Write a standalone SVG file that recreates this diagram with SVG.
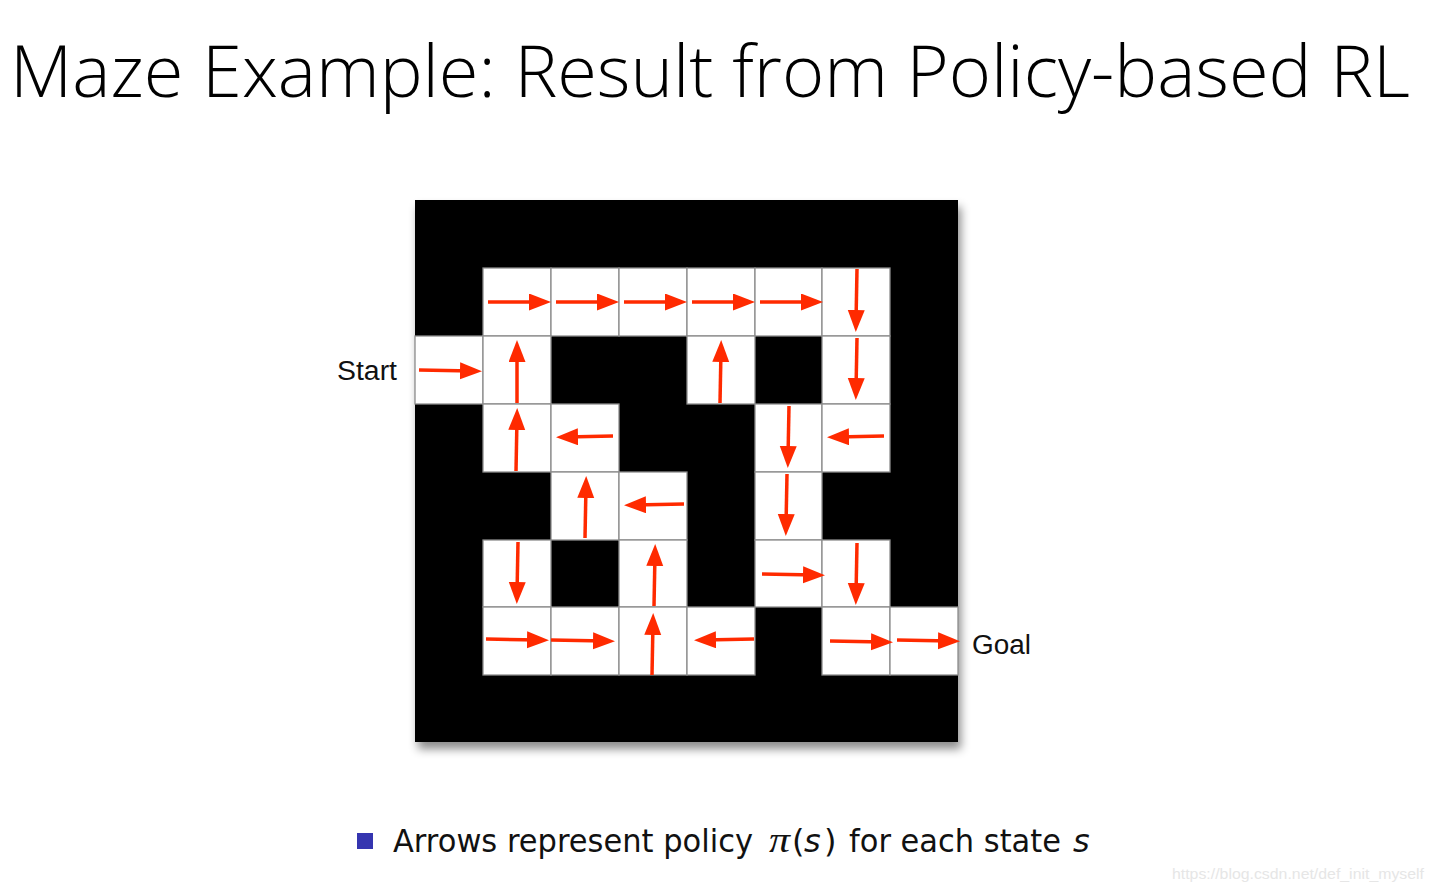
<svg xmlns="http://www.w3.org/2000/svg" width="1434" height="891" viewBox="0 0 1434 891">
<style>
.cell{fill:#ffffff;stroke:#8c8c8c;stroke-width:1.3}
.arr{stroke:#ff2a00;stroke-width:3.5;fill:none;marker-end:url(#ah)}
.lbl{font-family:"Liberation Sans",Arial,sans-serif;font-size:27px;fill:#111}
.cap{font-family:"DejaVu Sans",sans-serif;font-size:32px;fill:#111}
.capi{font-family:"DejaVu Sans",sans-serif;font-size:32px;font-style:italic;fill:#111}
</style>
<defs>
<marker id="ah" markerUnits="userSpaceOnUse" markerWidth="24" markerHeight="18" refX="12" refY="8.5" orient="auto">
<path d="M0,0 L22,8.5 L0,17 z" fill="#ff2a00"/>
</marker>
<filter id="sh" x="-5%" y="-5%" width="115%" height="115%">
<feDropShadow dx="3" dy="7" stdDeviation="5" flood-color="#000" flood-opacity="0.45"/>
</filter>
</defs>
<rect width="1434" height="891" fill="#ffffff"/>
<text x="10" y="97" font-family="'Open Sans',sans-serif" font-weight="300" font-size="72" textLength="1400" lengthAdjust="spacingAndGlyphs" fill="#000">Maze Example: Result from Policy-based RL</text>
<g id="maze">
<rect x="415" y="200" width="543" height="542" fill="#000" filter="url(#sh)"/>
<g id="cells">
<rect class="cell" x="483" y="268" width="68" height="68"/>
<rect class="cell" x="551" y="268" width="68" height="68"/>
<rect class="cell" x="619" y="268" width="68" height="68"/>
<rect class="cell" x="687" y="268" width="68" height="68"/>
<rect class="cell" x="755" y="268" width="67" height="68"/>
<rect class="cell" x="822" y="268" width="68" height="68"/>
<rect class="cell" x="415" y="336" width="68" height="68"/>
<rect class="cell" x="483" y="336" width="68" height="68"/>
<rect class="cell" x="687" y="336" width="68" height="68"/>
<rect class="cell" x="822" y="336" width="68" height="68"/>
<rect class="cell" x="483" y="404" width="68" height="68"/>
<rect class="cell" x="551" y="404" width="68" height="68"/>
<rect class="cell" x="755" y="404" width="67" height="68"/>
<rect class="cell" x="822" y="404" width="68" height="68"/>
<rect class="cell" x="551" y="472" width="68" height="68"/>
<rect class="cell" x="619" y="472" width="68" height="68"/>
<rect class="cell" x="755" y="472" width="67" height="68"/>
<rect class="cell" x="483" y="540" width="68" height="67"/>
<rect class="cell" x="619" y="540" width="68" height="67"/>
<rect class="cell" x="755" y="540" width="67" height="67"/>
<rect class="cell" x="822" y="540" width="68" height="67"/>
<rect class="cell" x="483" y="607" width="68" height="68"/>
<rect class="cell" x="551" y="607" width="68" height="68"/>
<rect class="cell" x="619" y="607" width="68" height="68"/>
<rect class="cell" x="687" y="607" width="68" height="68"/>
<rect class="cell" x="822" y="607" width="68" height="68"/>
<rect class="cell" x="890" y="607" width="68" height="68"/>
</g>
</g>
<g id="arrows">
<line class="arr" x1="488" y1="302" x2="541" y2="302"/>
<line class="arr" x1="556" y1="302" x2="609" y2="302"/>
<line class="arr" x1="624" y1="302" x2="677" y2="302"/>
<line class="arr" x1="692" y1="302" x2="745" y2="302"/>
<line class="arr" x1="760" y1="302" x2="813" y2="302"/>
<line class="arr" x1="857" y1="269" x2="856" y2="322"/>
<line class="arr" x1="419" y1="370" x2="472" y2="371"/>
<line class="arr" x1="517" y1="403" x2="517" y2="350"/>
<line class="arr" x1="720" y1="403" x2="721" y2="350"/>
<line class="arr" x1="857" y1="338" x2="856" y2="390"/>
<line class="arr" x1="516" y1="471" x2="517" y2="418"/>
<line class="arr" x1="613" y1="436" x2="566" y2="437"/>
<line class="arr" x1="789" y1="406" x2="788" y2="458"/>
<line class="arr" x1="884" y1="436" x2="837" y2="437"/>
<line class="arr" x1="585" y1="538" x2="586" y2="486"/>
<line class="arr" x1="684" y1="504" x2="634" y2="505"/>
<line class="arr" x1="787" y1="474" x2="786" y2="526"/>
<line class="arr" x1="518" y1="542" x2="517" y2="594"/>
<line class="arr" x1="654" y1="606" x2="655" y2="554"/>
<line class="arr" x1="762" y1="574" x2="815" y2="575"/>
<line class="arr" x1="857" y1="543" x2="856" y2="595"/>
<line class="arr" x1="486" y1="639" x2="539" y2="640"/>
<line class="arr" x1="551" y1="640" x2="605" y2="641"/>
<line class="arr" x1="652" y1="675" x2="653" y2="623"/>
<line class="arr" x1="754" y1="639" x2="704" y2="640"/>
<line class="arr" x1="830" y1="641" x2="883" y2="642"/>
<line class="arr" x1="897" y1="640" x2="950" y2="641"/>
</g>
<g id="start"><text class="lbl" x="337" y="380" textLength="60" lengthAdjust="spacingAndGlyphs">Start</text></g>
<g id="goal"><text class="lbl" x="972" y="654" textLength="59" lengthAdjust="spacingAndGlyphs">Goal</text></g>
<g id="caption">
<rect x="357" y="833" width="16" height="16" fill="#3535b0"/>
<text class="cap" x="393" y="852" textLength="360" lengthAdjust="spacingAndGlyphs">Arrows represent policy</text>
<text x="769" y="852" font-family="'Liberation Serif',serif" font-style="italic" font-size="36" textLength="21" lengthAdjust="spacingAndGlyphs" fill="#111">π</text>
<text class="cap" x="792" y="852">(</text>
<text class="capi" x="804" y="852">s</text>
<text class="cap" x="824" y="852">)</text>
<text class="cap" x="849" y="852" textLength="212" lengthAdjust="spacingAndGlyphs">for each state</text>
<text class="capi" x="1073" y="852">s</text>
</g>
<text x="1172" y="879" font-family="'Liberation Sans',Arial,sans-serif" font-size="15" textLength="252" lengthAdjust="spacingAndGlyphs" fill="#e6e6e6">https://blog.csdn.net/def_init_myself</text>
</svg>
